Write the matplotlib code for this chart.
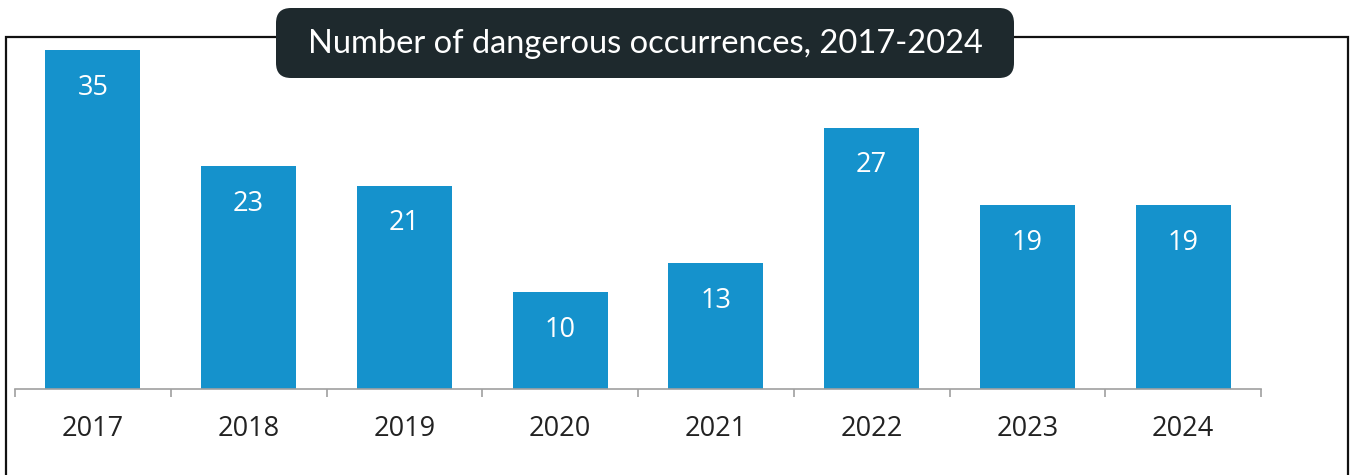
"""
Number of dangerous occurrences per year, bar chart with a boxed title
"""
import matplotlib
matplotlib.use('Agg')
import numpy as np
import matplotlib.pyplot as plt
import matplotlib.patches as patches
from matplotlib.transforms import IdentityTransform

years = ['2017', '2018', '2019', '2020', '2021', '2022', '2023', '2024']
occurrences = [35, 23, 21, 10, 13, 27, 19, 19]
title = 'Number of dangerous occurrences, 2017-2024'

W, H = 1353, 475
fig = plt.figure(figsize=(W / 100, H / 100), dpi=100)

# axes placed in pixel terms: x from 15 to 1261, baseline at y=389
ax_left, ax_right = 15, 1261
ax_bottom, ax_top = 389, 2
ax = fig.add_axes([ax_left / W, 1 - ax_bottom / H,
                   (ax_right - ax_left) / W, (ax_bottom - ax_top) / H])
ax.patch.set_alpha(0)

x = np.arange(len(years))
bars = ax.bar(x, occurrences, width=0.61, color='#1592CC', zorder=2)
ax.set_xlim(-0.5, len(years) - 0.5)
ax.set_ylim(0, 40)

for rect, val in zip(bars, occurrences):
    ax.annotate(str(val), (rect.get_x() + rect.get_width() / 2, rect.get_height()),
                xytext=(0, -27), textcoords='offset points', ha='center', va='center',
                color='white', fontsize=19.5, family='Open Sans')

for s in ['top', 'left', 'right']:
    ax.spines[s].set_visible(False)
ax.spines['bottom'].set_color('#A0A0A0')
ax.spines['bottom'].set_linewidth(1.2)
ax.set_yticks([])
ax.set_xticks(x)
ax.set_xticklabels(years, fontsize=19.5, family='Open Sans', color='#222222')
ax.tick_params(axis='x', which='major', length=0, pad=19)
ax.set_xticks(np.arange(-0.5, len(years)), minor=True)
ax.tick_params(axis='x', which='minor', length=6, width=1.2, color='#A0A0A0')

# outer frame (bottom edge runs off the picture), pixel coords
px = IdentityTransform()
frame = patches.Rectangle((5.5, -20), 1348 - 5.5, H - 37 + 20,
                          transform=px, fill=False,
                          edgecolor='#111111', linewidth=1.6, zorder=0)
fig.patches.append(frame)

# dark title box
tb = patches.FancyBboxPatch((276, H - 78), 1014 - 276, 70,
                            boxstyle='round,pad=0,rounding_size=15',
                            transform=px, facecolor='#1E292D',
                            edgecolor='none', zorder=3)
fig.patches.append(tb)
fig.text(645 / W, 1 - 44 / H, title, ha='center', va='center', color='white',
         fontsize=23.5, family='Lato', zorder=4)

plt.savefig('out.png', dpi=100)
